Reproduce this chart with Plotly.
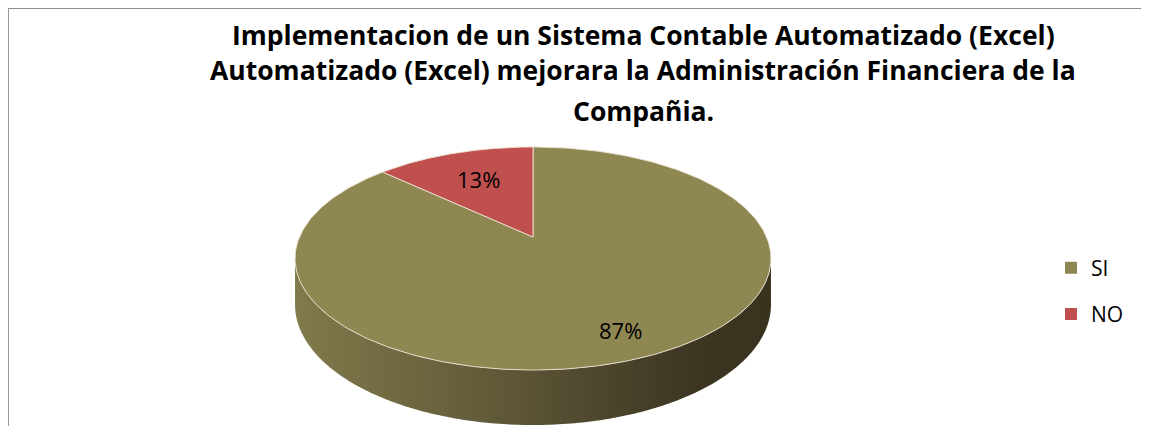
import numpy as np
import plotly.graph_objects as go

# ---- data ----
categories = ["SI", "NO"]
values = [87, 13]
slice_colors = ["#8F8752", "#C0504D"]
title_lines = [
    "Implementacion de un Sistema Contable Automatizado (Excel)",
    "Automatizado (Excel) mejorara la Administración Financiera de la",
    "Compañia.",
]

# ---- geometry / style (window pixels) ----
W, H = 1149, 426
OFF = 8                    # page body margin
CX, CY = 533, 237          # projected pie centre
A, B, K = 233.5, 107.4, 0.1928   # radii + perspective factor
T0 = 44.4                  # thickness of the pie
label_r = [0.81, 0.66]     # radial position of labels
title_y = [34.5, 70, 111]  # title line positions
FONT = "Open Sans"


def proj(theta, r=1.0, drop=0.0):
    u = r * np.sin(theta)
    v = -r * np.cos(theta)
    den = 1 - K * v
    vv = -np.cos(theta)
    return CX + A * u / den, CY + B * v / den + drop / (1 - K * vv)


total = float(sum(values))
fracs = [v / total for v in values]
starts = np.cumsum([0] + fracs[:-1]) * 2 * np.pi
ends = np.cumsum(fracs) * 2 * np.pi

th_right = np.arccos(-K)
th_left = 2 * np.pi - th_right

fig = go.Figure()

# side wall (visible near half)
for cat, s, e in zip(categories, starts, ends):
    a = max(s, th_right)
    b = min(e, th_left)
    if b <= a:
        continue
    th = np.linspace(a, b, 200)
    xt, yt = proj(th)
    xb, yb = proj(th[::-1], drop=T0)
    xs = np.concatenate([xt, xb, xt[:1]])
    ys = np.concatenate([yt, yb, yt[:1]])
    fig.add_trace(go.Scatter(
        x=xs, y=ys, mode="lines", fill="toself",
        line=dict(width=0, color="rgba(0,0,0,0)", simplify=False),
        fillgradient=dict(type="horizontal",
                          colorscale=[[0, "#817A4B"], [0.45, "#5E5737"], [0.85, "#3B3522"], [1, "#38331F"]]),
        showlegend=False, hoverinfo="skip"))

# top faces
for cat, s, e, col in zip(categories, starts, ends, slice_colors):
    th = np.linspace(s, e, 300)
    xa, ya = proj(th)
    xs = np.concatenate([[CX], xa, [CX]])
    ys = np.concatenate([[CY], ya, [CY]])
    fig.add_trace(go.Scatter(
        x=xs, y=ys, mode="lines", fill="toself", fillcolor=col,
        line=dict(width=1, color="rgba(235,225,210,0.9)"),
        showlegend=False, hoverinfo="skip", name=cat))

# labels
for val, s, e, rr in zip(values, starts, ends, label_r):
    mid = (s + e) / 2
    lx, ly = proj(mid, r=rr)
    fig.add_annotation(x=lx, y=ly, text=f"{round(val / total * 100)}%", showarrow=False,
                       font=dict(family=FONT, size=22, color="black"),
                       xanchor="center", yanchor="middle")

# legend entries
for cat, col in zip(categories, slice_colors):
    fig.add_trace(go.Scatter(x=[None], y=[None], mode="markers", name=cat, legendgroup=cat,
                             marker=dict(symbol="square", size=12, color=col)))

# title
for line, ty in zip(title_lines, title_y):
    fig.add_annotation(x=643, y=ty, text=f"<b>{line}</b>", showarrow=False,
                       font=dict(family=FONT, size=26.5, color="black"),
                       xanchor="center", yanchor="middle")

# frame
fig.add_shape(type="line", x0=8, x1=1148, y0=8, y1=8, line=dict(color="#8C8C8C", width=2))
fig.add_shape(type="line", x0=8, x1=8, y0=8, y1=H, line=dict(color="#9A9A9A", width=2))
fig.add_shape(type="line", x0=1148, x1=1148, y0=8, y1=H, line=dict(color="#C8C8C8", width=2))

fig.update_layout(
    width=W - OFF, height=H - OFF, autosize=False,
    margin=dict(l=0, r=0, t=0, b=0),
    paper_bgcolor="white", plot_bgcolor="white",
    xaxis=dict(range=[OFF, W], visible=False, fixedrange=True),
    yaxis=dict(range=[H, OFF], visible=False, fixedrange=True),
    legend=dict(x=(1051 - OFF) / (W - OFF), y=1 - (291 - OFF) / (H - OFF),
                xanchor="left", yanchor="middle",
                font=dict(family=FONT, size=21, color="black"),
                tracegroupgap=16, bgcolor="rgba(0,0,0,0)", itemwidth=30),
    showlegend=True,
)

fig.write_html("out.html")
